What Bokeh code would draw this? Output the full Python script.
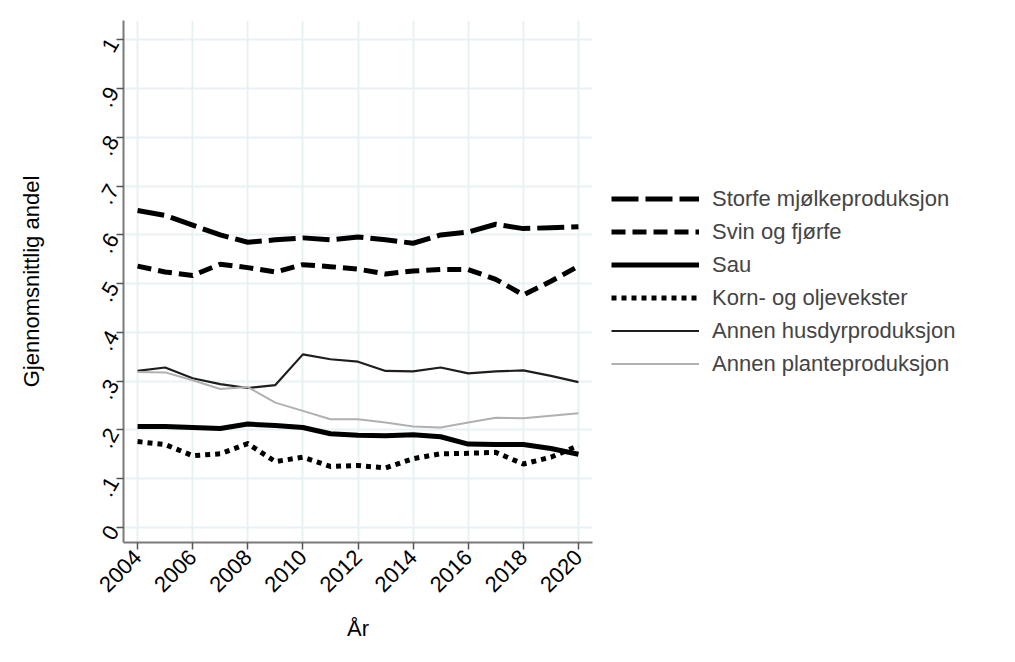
import math
from bokeh.plotting import figure
from bokeh.models import Legend, LegendItem, FixedTicker, Range1d
from bokeh.embed import file_html
from bokeh.resources import INLINE

years = list(range(2004, 2021))
storfe = [0.650, 0.640, 0.620, 0.600, 0.585, 0.590, 0.594, 0.590, 0.596, 0.590, 0.583, 0.600, 0.606, 0.622, 0.613, 0.615, 0.617]
svin = [0.536, 0.524, 0.517, 0.540, 0.533, 0.524, 0.539, 0.535, 0.530, 0.520, 0.526, 0.529, 0.529, 0.509, 0.477, 0.505, 0.536]
sau = [0.207, 0.207, 0.205, 0.203, 0.212, 0.209, 0.205, 0.192, 0.189, 0.188, 0.190, 0.186, 0.171, 0.170, 0.170, 0.162, 0.150]
korn = [0.176, 0.170, 0.147, 0.151, 0.172, 0.135, 0.144, 0.125, 0.127, 0.122, 0.141, 0.151, 0.152, 0.154, 0.130, 0.144, 0.168]
husdyr = [0.321, 0.328, 0.306, 0.294, 0.286, 0.292, 0.355, 0.345, 0.340, 0.321, 0.320, 0.328, 0.316, 0.320, 0.322, 0.311, 0.298]
plante = [0.319, 0.318, 0.302, 0.284, 0.288, 0.256, 0.239, 0.222, 0.222, 0.215, 0.207, 0.205, 0.215, 0.225, 0.224, 0.229, 0.234]

labels = ["Storfe mjølkeproduksjon", "Svin og fjørfe", "Sau", "Korn- og oljevekster",
          "Annen husdyrproduksjon", "Annen planteproduksjon"]
x_ticks = list(range(2004, 2021, 2))
y_ticks = [0, 0.1, 0.2, 0.3, 0.4, 0.5, 0.6, 0.7, 0.8, 0.9, 1.0]
y_tick_labels = ["0", ".1", ".2", ".3", ".4", ".5", ".6", ".7", ".8", ".9", "1"]

FONT = "Liberation Sans"
FS = "22px"

p = figure(frame_width=469, frame_height=522, output_backend="svg", toolbar_location=None,
           x_range=Range1d(2003.49, 2020.51), y_range=Range1d(-0.031, 1.04),
           min_border_left=123, min_border_top=20, min_border_bottom=20, min_border_right=0)
p.background_fill_color = "white"
p.border_fill_color = "white"
p.outline_line_color = None

series = [storfe, svin, sau, korn, husdyr, plante]
styles = [
    dict(line_color="black", line_width=5, line_dash="27 7"),
    dict(line_color="black", line_width=5, line_dash="14 7"),
    dict(line_color="black", line_width=5, line_dash="solid"),
    dict(line_color="black", line_width=5, line_dash="5 5"),
    dict(line_color="#1e1e1e", line_width=2.2, line_dash="solid"),
    dict(line_color="#b0b0b0", line_width=2, line_dash="solid"),
]
items = []
for ser, st, lab in zip(series, styles, labels):
    r = p.line(years, ser, line_join="round", **st)
    items.append(LegendItem(label=lab, renderers=[r]))

legend = Legend(items=items, location="center_left", margin=19, padding=0, spacing=5,
                glyph_width=88, glyph_height=28, label_height=28, label_standoff=13,
                label_text_font=FONT, label_text_font_size=FS,
                border_line_color=None, background_fill_alpha=0)
p.add_layout(legend, "right")

p.xaxis.ticker = FixedTicker(ticks=x_ticks)
p.yaxis.ticker = FixedTicker(ticks=y_ticks)
p.yaxis.major_label_overrides = {t: l for t, l in zip(y_ticks, y_tick_labels)}
p.xaxis.major_label_orientation = math.pi / 4
p.yaxis.major_label_orientation = math.pi / 3

for ax in (p.xaxis, p.yaxis):
    ax.axis_line_color = "#7a7a7a"
    ax.axis_line_width = 2
    ax.major_tick_line_color = "#555555"
    ax.major_tick_line_width = 1.5
    ax.major_tick_out = 7
    ax.major_tick_in = 0
    ax.minor_tick_line_color = None
    ax.major_label_text_font = FONT
    ax.major_label_text_font_size = FS
    ax.major_label_text_color = "black"
    ax.axis_label_text_font = FONT
    ax.axis_label_text_font_size = FS
    ax.axis_label_text_font_style = "normal"
    ax.axis_label_text_color = "black"

p.xaxis.axis_label = "År"
p.yaxis.axis_label = "Gjennomsnittlig andel"
p.xaxis.major_label_standoff = 4
p.yaxis.major_label_standoff = 3
p.xaxis.axis_label_standoff = 14
p.yaxis.axis_label_standoff = 44

p.xgrid.ticker = FixedTicker(ticks=x_ticks)
p.ygrid.ticker = FixedTicker(ticks=y_ticks)
for g in (p.xgrid, p.ygrid):
    g.grid_line_color = "#e8f1f3"
    g.grid_line_width = 2

open("out.html", "w").write(file_html(p, INLINE))
